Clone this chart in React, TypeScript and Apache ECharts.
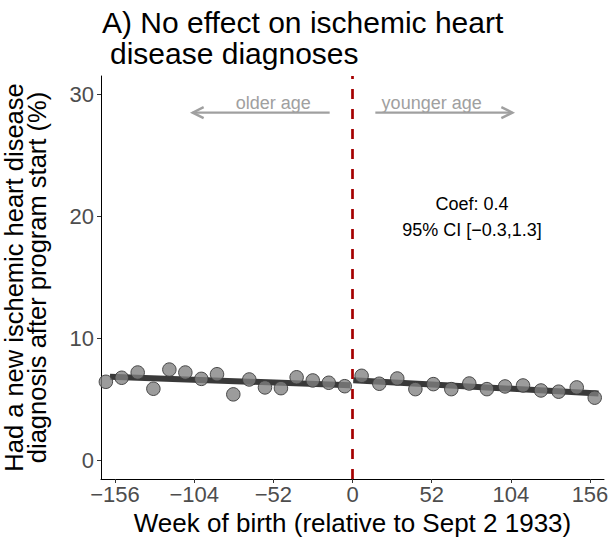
import React, { useEffect, useRef } from "react";
import * as echarts from "echarts";

// ---- data ----
const leftWeeks = [-162, -151.6, -141.1, -130.8, -120.3, -109.8, -99.3, -89, -78.3, -67.8, -57.5, -47, -36.7, -26.1, -15.6, -5.1];
const leftRates = [6.46, 6.79, 7.22, 5.89, 7.46, 7.22, 6.7, 7.08, 5.43, 6.65, 6.0, 5.94, 6.83, 6.57, 6.38, 6.1];
const rightWeeks = [6.0, 17.6, 29.4, 41.3, 53.1, 64.9, 76.7, 88.3, 100.2, 112.0, 123.8, 135.4, 147.3, 159.1];
const rightRates = [6.95, 6.3, 6.73, 5.86, 6.27, 5.86, 6.32, 5.86, 6.08, 6.16, 5.75, 5.65, 6.0, 5.16];
const leftFitWeeks = [-159.3, -1.6];
const leftFitRates = [6.87, 6.18];
const rightFitWeeks = [0.5, 161.6];
const rightFitRates = [6.59, 5.51];
const xTicks = [-156, -104, -52, 0, 52, 104, 156];
const yTicks = [0, 10, 20, 30];
const cutoffWeek = 0;
const arrowFrom = [-15, 15];
const arrowTo = [-105, 105];
const arrowRate = 28.5;
const arrowLabels = ["older age", "younger age"];
const arrowLabelWeeks = [-52, 52];
const arrowLabelRate = 29.25;
const statLabels = ["Coef: 0.4", "95% CI [\u22120.3,1.3]"];
const statWeek = 78.5;
const statRates = [21.0, 18.85];

const FONT = "'Liberation Sans', Arial, Helvetica, sans-serif";

export default function App() {
  const ref = useRef<HTMLDivElement>(null);
  useEffect(() => {
    document.body.style.margin = "0";
    const chart = echarts.init(ref.current!, null, { renderer: "svg" });
    const zip = (a: number[], b: number[]) => a.map((v, i) => [v, b[i]]);
    const arrowData = arrowFrom.map((f, i) => [f, arrowTo[i], arrowRate]);
    const textData = [
      ...arrowLabels.map((t, i) => [arrowLabelWeeks[i], arrowLabelRate, i]),
      ...statLabels.map((t, i) => [statWeek, statRates[i], 10 + i]),
    ];
    chart.setOption({
      animation: false,
      grid: { left: 101, right: 10, top: 76, bottom: 60, containLabel: false, outerBoundsMode: "none" },
      xAxis: {
        type: "value",
        min: -165.2,
        max: 165.2,
        name: "Week of birth (relative to Sept 2 1933)",
        nameLocation: "middle",
        nameGap: 27,
        nameTextStyle: { fontFamily: FONT, fontSize: 26, color: "#000", verticalAlign: "top", lineHeight: 26 },
        axisLine: { onZero: false, lineStyle: { color: "#000", width: 1 } },
        axisTick: { show: true, length: 4, lineStyle: { color: "#333" }, customValues: xTicks },
        axisLabel: {
          customValues: xTicks,
          margin: 4,
          fontFamily: FONT,
          fontSize: 22,
          color: "#4d4d4d",
          formatter: (v: number) => String(v).replace("-", "\u2212"),
        },
        splitLine: { show: false },
      },
      yAxis: {
        type: "value",
        min: -1.5,
        max: 31.5,
        name: "Had a new ischemic heart disease\ndiagnosis after program start (%)",
        nameLocation: "middle",
        nameRotate: 90,
        nameGap: 52,
        nameTextStyle: { fontFamily: FONT, fontSize: 25.5, color: "#000", lineHeight: 23.5 },
        axisLine: { show: true, onZero: false, lineStyle: { color: "#000", width: 1 } },
        axisTick: { show: true, length: 4, lineStyle: { color: "#333" }, customValues: yTicks },
        axisLabel: { customValues: yTicks, margin: 7, fontFamily: FONT, fontSize: 22, color: "#4d4d4d" },
        splitLine: { show: false },
      },
      graphic: [
        { type: "text", left: 102, top: 7, style: { text: "A) No effect on ischemic heart", font: `30px ${FONT}`, fill: "#000" } },
        { type: "text", left: 110, top: 38, style: { text: "disease diagnoses", font: `30px ${FONT}`, fill: "#000" } },
      ],
      series: [
        {
          type: "line",
          data: zip(leftFitWeeks, leftFitRates),
          showSymbol: false,
          lineStyle: { color: "rgba(40,40,40,0.92)", width: 6 },
          z: 2,
        },
        {
          type: "line",
          data: zip(rightFitWeeks, rightFitRates),
          showSymbol: false,
          lineStyle: { color: "rgba(40,40,40,0.92)", width: 6 },
          z: 2,
        },
        {
          type: "scatter",
          data: [...zip(leftWeeks, leftRates), ...zip(rightWeeks, rightRates)],
          symbolSize: 13.5,
          itemStyle: { color: "rgba(128,128,128,0.78)", borderColor: "#3a3a3a", borderWidth: 0.9, opacity: 1 },
          z: 3,
        },
        {
          type: "line",
          data: [],
          z: 5,
          markLine: {
            silent: true,
            symbol: "none",
            label: { show: false },
            lineStyle: { color: "#a50000", type: [10, 10], width: 2.7 },
            data: [{ xAxis: cutoffWeek }],
            z: 5,
          },
        },
        {
          type: "custom",
          data: arrowData,
          z: 4,
          renderItem: (params: any, api: any) => {
            const s = api.coord([api.value(0), api.value(2)]);
            const e = api.coord([api.value(1), api.value(2)]);
            const dir = Math.sign(e[0] - s[0]);
            const style = { stroke: "#a0a0a0", lineWidth: 2.4, fill: "none" };
            return {
              type: "group",
              children: [
                { type: "line", shape: { x1: s[0], y1: s[1], x2: e[0], y2: e[1] }, style },
                {
                  type: "polyline",
                  shape: { points: [[e[0] - dir * 11, e[1] - 5.5], [e[0], e[1]], [e[0] - dir * 11, e[1] + 5.5]] },
                  style,
                },
              ],
            };
          },
        },
        {
          type: "custom",
          data: textData,
          z: 4,
          renderItem: (params: any, api: any) => {
            const p = api.coord([api.value(0), api.value(1)]);
            const k = api.value(2);
            const isStat = k >= 10;
            const text = isStat ? statLabels[k - 10] : arrowLabels[k];
            return {
              type: "text",
              x: p[0],
              y: p[1],
              style: {
                text,
                align: "center",
                verticalAlign: "middle",
                font: `18px ${FONT}`,
                fill: isStat ? "#000" : "#a0a0a0",
              },
            };
          },
        },
      ],
    });
    return () => chart.dispose();
  }, []);
  return <div ref={ref} style={{ width: 614, height: 539, position: "absolute", left: 0, top: 0 }} />;
}
